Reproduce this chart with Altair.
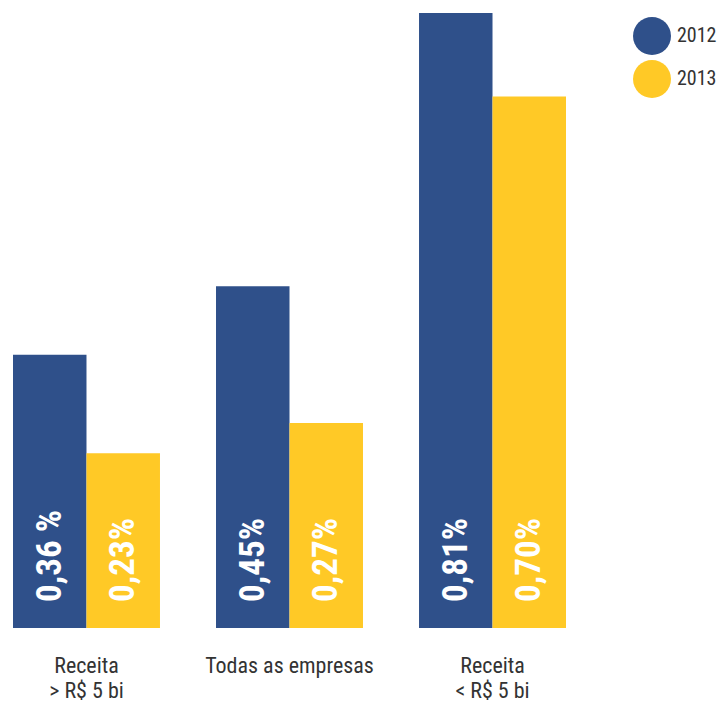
import altair as alt
import pandas as pd

groups = ["Receita\n> R$ 5 bi", "Todas as empresas", "Receita\n< R$ 5 bi"]
years = ["2012", "2013"]
v2012 = [0.36, 0.45, 0.81]
v2013 = [0.23, 0.27, 0.70]
lab2012 = ["0,36 %", "0,45%", "0,81%"]
lab2013 = ["0,23%", "0,27%", "0,70%"]
colors = ["#2F508A", "#FFC926"]

rows = []
for g, a, b, la, lb in zip(groups, v2012, v2013, lab2012, lab2013):
    rows.append({"grupo": g, "ano": years[0], "valor": a, "rotulo": la})
    rows.append({"grupo": g, "ano": years[1], "valor": b, "rotulo": lb})
df = pd.DataFrame(rows)

FONT = "Roboto Condensed, Noto Sans Condensed, Open Sans Condensed, Liberation Sans Narrow, Roboto"

x = alt.X("grupo:N", sort=groups, title=None,
          scale=alt.Scale(paddingInner=0.276, paddingOuter=0),
          axis=alt.Axis(orient="bottom", labelAngle=0, domain=False, ticks=False,
                        labelFontSize=22, labelColor="#333333", labelFont=FONT,
                        labelPadding=27, labelLineHeight=25, labelLimit=0,
                        labelOverlap=False,
                        labelExpr="split(datum.label, '\\n')"))
xo = alt.XOffset("ano:N", sort=years, scale=alt.Scale(paddingInner=0, paddingOuter=0))
yscale = alt.Scale(domain=[0, 0.81], nice=False, zero=True)

base = alt.Chart(df)

bars = base.mark_bar(strokeWidth=0).encode(
    x=x,
    xOffset=xo,
    y=alt.Y("valor:Q", scale=yscale, axis=None),
    color=alt.Color("ano:N", sort=years,
                    scale=alt.Scale(domain=years, range=colors),
                    legend=alt.Legend(title=None, orient="none", legendX=620, legendY=4,
                                      symbolType="circle", symbolSize=1444,
                                      symbolStrokeWidth=0, symbolOpacity=1,
                                      labelFontSize=20, labelFont=FONT,
                                      labelColor="#333333", rowPadding=5,
                                      labelOffset=6, labelLimit=0)),
)

texts = base.mark_text(angle=270, align="left", baseline="middle", dx=26,
                       font=FONT, fontSize=35, fontWeight="bold", color="white").encode(
    x=x,
    xOffset=xo,
    y=alt.datum(0, scale=yscale),
    text="rotulo:N",
)

chart = alt.layer(bars, texts).properties(
    width=553, height=615,
    autosize=alt.AutoSizeParams(type="none"),
    padding={"left": 5, "top": 5, "right": 152, "bottom": 75},
).configure(background="white", view=alt.ViewConfig(strokeWidth=0, stroke=None))

chart.save("out.html", embed_options={"renderer": "svg", "actions": False})
